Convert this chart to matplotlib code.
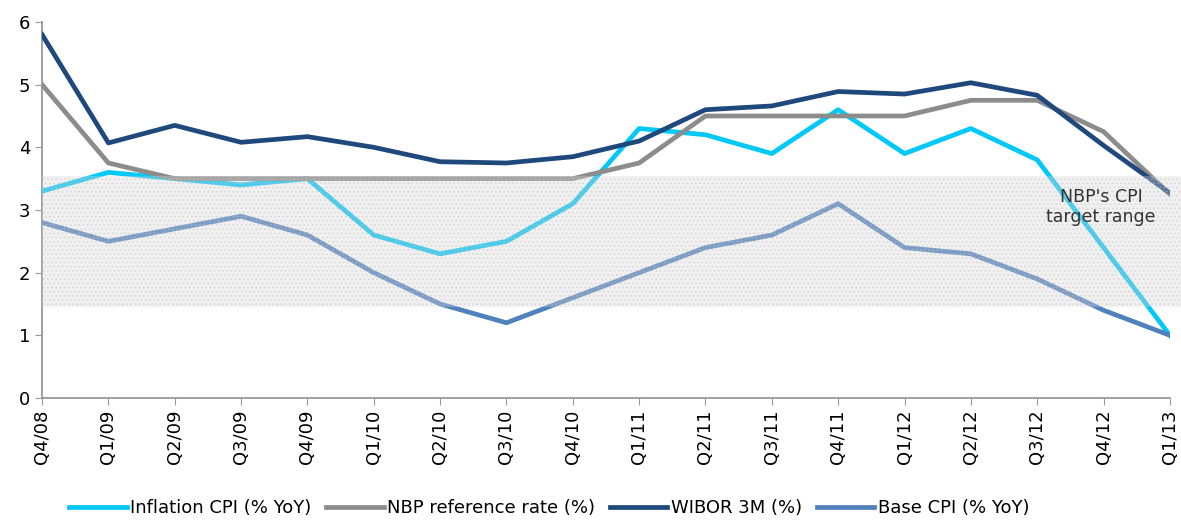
import matplotlib.pyplot as plt

quarters = ['Q4/08', 'Q1/09', 'Q2/09', 'Q3/09', 'Q4/09', 'Q1/10', 'Q2/10', 'Q3/10', 'Q4/10',
            'Q1/11', 'Q2/11', 'Q3/11', 'Q4/11', 'Q1/12', 'Q2/12', 'Q3/12', 'Q4/12', 'Q1/13']
inflation_cpi = [3.3, 3.6, 3.5, 3.4, 3.5, 2.6, 2.3, 2.5, 3.1, 4.3, 4.2, 3.9, 4.6, 3.9, 4.3, 3.8, 2.4, 1.0]
nbp_rate = [5.0, 3.75, 3.5, 3.5, 3.5, 3.5, 3.5, 3.5, 3.5, 3.75, 4.5, 4.5, 4.5, 4.5, 4.75, 4.75, 4.25, 3.25]
wibor_3m = [5.8, 4.07, 4.35, 4.08, 4.17, 4.0, 3.77, 3.75, 3.85, 4.1, 4.6, 4.66, 4.89, 4.85, 5.03, 4.83, 4.03, 3.27]
base_cpi = [2.8, 2.5, 2.7, 2.9, 2.6, 2.0, 1.5, 1.2, 1.6, 2.0, 2.4, 2.6, 3.1, 2.4, 2.3, 1.9, 1.4, 1.0]
target_low, target_high = 1.45, 3.55

plt.rcParams['font.family'] = ['DejaVu Sans']
plt.rcParams['hatch.linewidth'] = 0.6

fig = plt.figure(figsize=(11.81, 5.23), dpi=100)
ax = fig.add_axes([0.0356, 0.239, 0.955, 0.719])

x = range(len(quarters))
ax.plot(x, inflation_cpi, color='#00C8F8', lw=3.4, label='Inflation CPI (% YoY)', zorder=3)
ax.plot(x, nbp_rate, color='#8C8C8C', lw=3.4, label='NBP reference rate (%)', zorder=3)
ax.plot(x, wibor_3m, color='#1F497D', lw=3.4, label='WIBOR 3M (%)', zorder=3)
ax.plot(x, base_cpi, color='#4F81BD', lw=3.4, label='Base CPI (% YoY)', zorder=3)

# stippled target band drawn over the lines
ax.axhspan(target_low, target_high, xmax=1.01, facecolor='#d4d4d4', alpha=0.35, edgecolor='none',
           zorder=4, clip_on=False)
ax.axhspan(target_low, target_high, xmax=1.01, facecolor='none', edgecolor='#c0c0c0', hatch='....',
           lw=0, alpha=0.5, zorder=4, clip_on=False)
ax.text(15.96, 3.05, "NBP's CPI\ntarget range", ha='center', va='center', fontsize=12.5,
        color='#333333', zorder=5, linespacing=1.1)

ax.set_xlim(0, 17)
ax.set_ylim(0, 6)
ax.set_yticks(range(7))
ax.set_xticks(list(x))
ax.set_xticklabels(quarters, rotation=90)
ax.tick_params(labelsize=13, color='#999999', length=5)
for s in ['top', 'right']:
    ax.spines[s].set_visible(False)
for s in ['left', 'bottom']:
    ax.spines[s].set_color('#999999')
    ax.spines[s].set_linewidth(1.3)

fig.legend(loc='lower center', bbox_to_anchor=(0.465, -0.02), ncol=4, frameon=False,
           fontsize=13, handlelength=3.2, handletextpad=0.2, columnspacing=0.8)

fig.savefig('out.png', dpi=100)
